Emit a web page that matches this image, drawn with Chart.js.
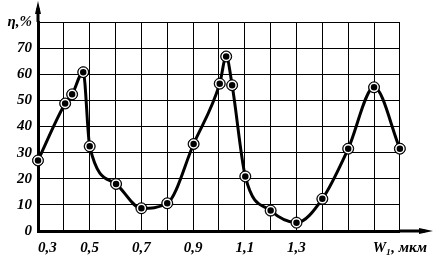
<!DOCTYPE html>
<html>
<head>
<meta charset="utf-8">
<script src="https://cdn.jsdelivr.net/npm/chart.js@4.4.0/dist/chart.umd.min.js"></script>
<style>
  html, body { margin: 0; padding: 0; background: #fff; }
  #wrap { width: 435px; height: 257px; }
</style>
</head>
<body>
<div id="wrap"><canvas id="effChart"></canvas></div>
<script>
const widths = [0.3, 0.405, 0.432, 0.475, 0.5, 0.602, 0.7, 0.8, 0.902, 1.003, 1.028, 1.051, 1.102, 1.2, 1.3, 1.4, 1.5, 1.6, 1.7];
const efficiency = [27, 48.8, 52.3, 60.8, 32.4, 18, 8.7, 10.6, 33.3, 56.4, 66.8, 55.8, 20.9, 7.8, 3.2, 12.3, 31.5, 55, 31.5];
const xLabels = ['\u2003 0,3', '', '0,5', '', '0,7', '', '0,9', '', '1,1', '', '1,3', '', '', '', 'W\u2081, мкм'];
const yLabels = ['0', '10', '20', '30', '40', '50', '60', '70', 'η,%'];

const points = widths.map((w, i) => ({ x: w, y: efficiency[i] }));
const tickFont = { family: '"Liberation Serif", serif', size: 15, style: 'italic', weight: 'bold' };

// стрелки на концах осей
const arrows = {
    id: 'arrows',
    afterDraw(chart) {
        const ctx = chart.ctx;
        const a = chart.chartArea;
        ctx.save();
        ctx.strokeStyle = '#000';
        ctx.fillStyle = '#000';
        ctx.lineWidth = 3;
        ctx.beginPath();
        ctx.moveTo(a.left, a.top);
        ctx.lineTo(a.left, 8);
        ctx.moveTo(a.right, a.bottom);
        ctx.lineTo(425, a.bottom);
        ctx.stroke();
        ctx.beginPath();
        ctx.moveTo(a.left, 1);
        ctx.lineTo(a.left - 3, 14);
        ctx.lineTo(a.left + 3, 14);
        ctx.closePath();
        ctx.fill();
        ctx.beginPath();
        ctx.moveTo(433, a.bottom);
        ctx.lineTo(419, a.bottom - 3);
        ctx.lineTo(419, a.bottom + 3);
        ctx.closePath();
        ctx.fill();
        ctx.restore();
    }
};

new Chart(document.getElementById('effChart'), {
    type: 'line',
    data: {
        datasets: [
            {
                data: points,
                showLine: false,
                pointRadius: 4,
                pointBackgroundColor: '#000',
                pointBorderColor: '#fff',
                pointBorderWidth: 1.5,
                clip: false
            },
            {
                data: points,
                borderColor: '#000',
                borderWidth: 3,
                cubicInterpolationMode: 'monotone',
                pointRadius: 5.5,
                pointBackgroundColor: '#000',
                pointBorderColor: '#000',
                pointBorderWidth: 1,
                clip: false
            }
        ]
    },
    options: {
        responsive: true,
        maintainAspectRatio: false,
        animation: false,
        layout: { padding: { left: 0, top: 22, right: 28, bottom: 0 } },
        plugins: {
            legend: { display: false },
            tooltip: { enabled: false }
        },
        scales: {
            x: {
                type: 'linear',
                min: 0.3,
                max: 1.7,
                afterBuildTicks: scale => {
                    scale.ticks = xLabels.map((_, i) => ({ value: Math.round((0.3 + i * 0.1) * 10) / 10 }));
                },
                afterFit: scale => { scale.height = 26; },
                grid: { color: '#000', lineWidth: 1, drawTicks: false },
                border: { display: true, color: '#000', width: 3 },
                ticks: {
                    color: '#000',
                    font: tickFont,
                    padding: 8,
                    maxRotation: 0,
                    autoSkip: false,
                    callback: (v, i) => xLabels[i]
                }
            },
            y: {
                min: 0,
                max: 80,
                afterBuildTicks: scale => {
                    scale.ticks = yLabels.map((_, i) => ({ value: i * 10 }));
                },
                afterFit: scale => { scale.width = 38; },
                grid: { color: '#000', lineWidth: 1, drawTicks: false },
                border: { display: true, color: '#000', width: 3 },
                ticks: {
                    color: '#000',
                    font: tickFont,
                    padding: 6,
                    autoSkip: false,
                    callback: (v, i) => yLabels[i]
                }
            }
        }
    },
    plugins: [arrows]
});
</script>
</body>
</html>
